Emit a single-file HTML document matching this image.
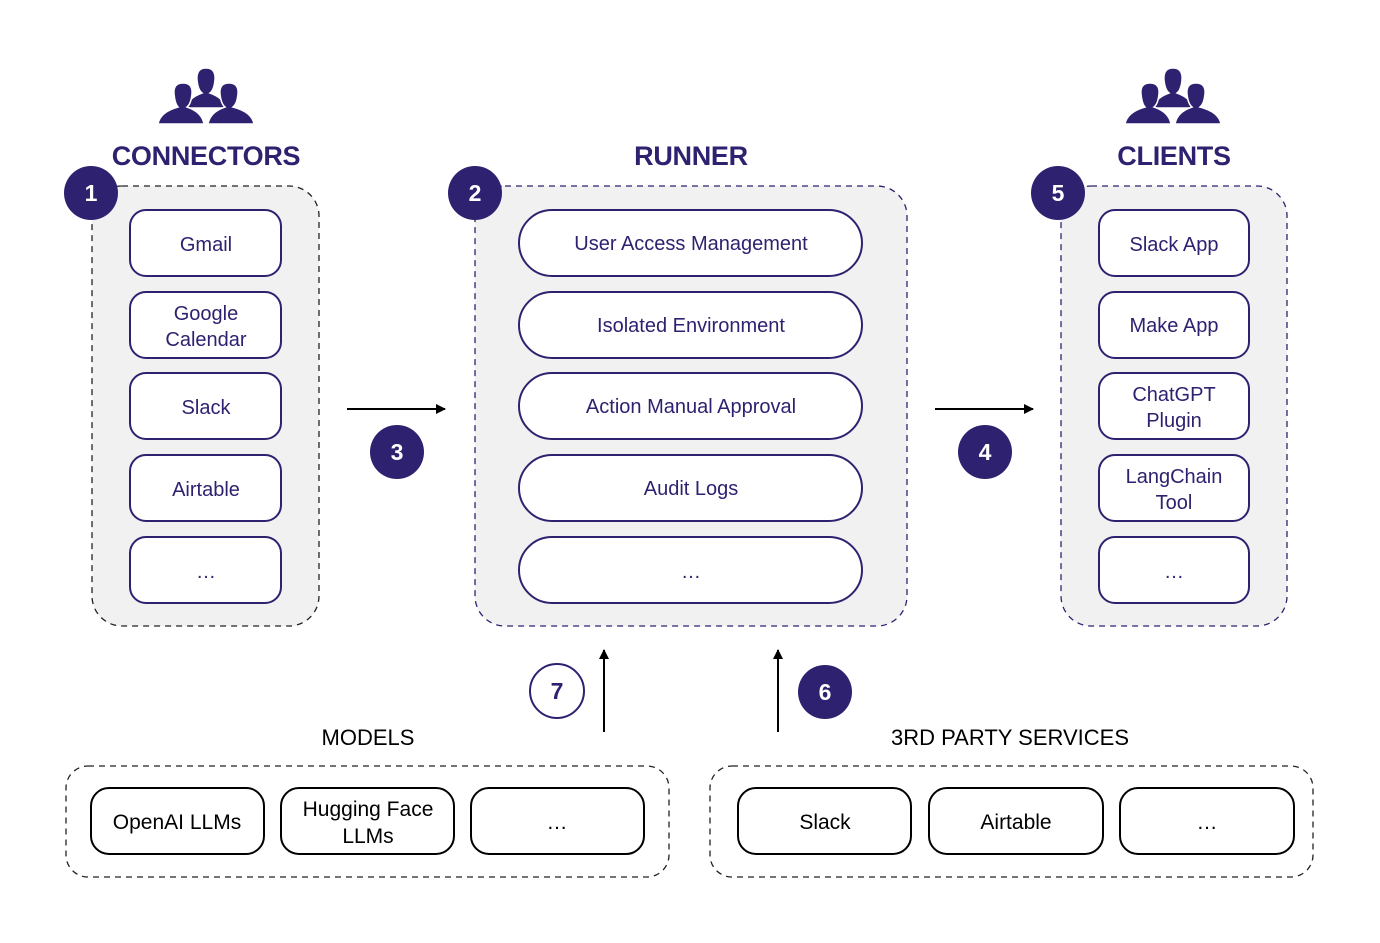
<!DOCTYPE html>
<html><head><meta charset="utf-8"><style>
html,body{margin:0;padding:0;background:#fff}
svg{display:block}
text{font-family:"Liberation Sans",Arial,sans-serif}
</style></head><body>
<svg width="1380" height="943" viewBox="0 0 1380 943" xmlns="http://www.w3.org/2000/svg">
<defs>
<marker id="ah" markerWidth="10" markerHeight="10" refX="9" refY="5" orient="auto" markerUnits="userSpaceOnUse"><path d="M0,0 L10,5 L0,10 z" fill="#000"/></marker>
<g id="people" fill="#2e2270" stroke="#fff" stroke-width="1.5">
  <path d="M-9,-16 Q-10,-28 0,-28 Q10,-28 9,-16 Q8,-6 4,-3 Q18,2 20,12 L-20,12 Q-18,2 -4,-3 Q-8,-6 -9,-16 z"/>
  <path d="M-32,-2 Q-33,-13 -23,-13 Q-13,-13 -14,-2 Q-15,8 -19,11 Q-4,16 -2,28 L-48,28 Q-46,16 -28,11 Q-31,8 -32,-2 z"/>
  <path d="M14,-2 Q13,-13 23,-13 Q33,-13 32,-2 Q31,8 27,11 Q46,16 48,28 L2,28 Q4,16 19,11 Q15,8 14,-2 z"/>
</g>
</defs>
<g transform="translate(206,96)"><use href="#people"/></g>
<g transform="translate(1173,96)"><use href="#people"/></g>

<g font-weight="bold" font-size="27" fill="#2e2270" text-anchor="middle" letter-spacing="-0.3">
<text x="206" y="165">CONNECTORS</text>
<text x="691" y="165">RUNNER</text>
<text x="1174" y="165">CLIENTS</text>
</g>

<rect x="92" y="186" width="227" height="440" rx="30" fill="#f1f1f1" stroke="#222" stroke-width="1.3" stroke-dasharray="6,5"/>
<rect x="475" y="186" width="432" height="440" rx="30" fill="#f1f1f1" stroke="#2e2270" stroke-width="1.3" stroke-dasharray="6,5"/>
<rect x="1061" y="186" width="226" height="440" rx="30" fill="#f1f1f1" stroke="#2e2270" stroke-width="1.3" stroke-dasharray="6,5"/>

<g fill="#fff" stroke="#2e2270" stroke-width="2">
<rect x="130" y="210" width="151" height="66" rx="16"/>
<rect x="130" y="292" width="151" height="66" rx="16"/>
<rect x="130" y="373" width="151" height="66" rx="16"/>
<rect x="130" y="455" width="151" height="66" rx="16"/>
<rect x="130" y="537" width="151" height="66" rx="16"/>
<rect x="519" y="210" width="343" height="66" rx="33"/>
<rect x="519" y="292" width="343" height="66" rx="33"/>
<rect x="519" y="373" width="343" height="66" rx="33"/>
<rect x="519" y="455" width="343" height="66" rx="33"/>
<rect x="519" y="537" width="343" height="66" rx="33"/>
<rect x="1099" y="210" width="150" height="66" rx="16"/>
<rect x="1099" y="292" width="150" height="66" rx="16"/>
<rect x="1099" y="373" width="150" height="66" rx="16"/>
<rect x="1099" y="455" width="150" height="66" rx="16"/>
<rect x="1099" y="537" width="150" height="66" rx="16"/>
</g>

<g font-size="20" fill="#2e2270" text-anchor="middle">
<text x="206" y="251">Gmail</text>
<text x="206" y="320">Google</text><text x="206" y="346">Calendar</text>
<text x="206" y="414">Slack</text>
<text x="206" y="496">Airtable</text>
<text x="206" y="578">…</text>
<text x="691" y="250">User Access Management</text>
<text x="691" y="332">Isolated Environment</text>
<text x="691" y="413">Action Manual Approval</text>
<text x="691" y="495">Audit Logs</text>
<text x="691" y="578">…</text>
<text x="1174" y="251">Slack App</text>
<text x="1174" y="332">Make App</text>
<text x="1174" y="401">ChatGPT</text><text x="1174" y="427">Plugin</text>
<text x="1174" y="483">LangChain</text><text x="1174" y="509">Tool</text>
<text x="1174" y="578">…</text>
</g>

<g stroke="#000" stroke-width="2">
<line x1="347" y1="409" x2="445" y2="409" marker-end="url(#ah)"/>
<line x1="935" y1="409" x2="1033" y2="409" marker-end="url(#ah)"/>
<line x1="604" y1="732" x2="604" y2="650" marker-end="url(#ah)"/>
<line x1="778" y1="732" x2="778" y2="650" marker-end="url(#ah)"/>
</g>

<g fill="#2e2270">
<circle cx="91" cy="193" r="27"/><circle cx="475" cy="193" r="27"/><circle cx="1058" cy="193" r="27"/>
<circle cx="397" cy="452" r="27"/><circle cx="985" cy="452" r="27"/><circle cx="825" cy="692" r="27"/>
</g>
<circle cx="557" cy="691" r="27" fill="#fff" stroke="#2e2270" stroke-width="2"/>
<g font-size="23" font-weight="bold" text-anchor="middle" fill="#fff">
<text x="91" y="201">1</text><text x="475" y="201">2</text><text x="1058" y="201">5</text>
<text x="397" y="460">3</text><text x="985" y="460">4</text><text x="825" y="700">6</text>
<text x="557" y="699" fill="#2e2270">7</text>
</g>

<g font-size="22" fill="#000" text-anchor="middle">
<text x="368" y="745">MODELS</text>
<text x="1010" y="745">3RD PARTY SERVICES</text>
</g>
<rect x="66" y="766" width="603" height="111" rx="22" fill="none" stroke="#222" stroke-width="1.3" stroke-dasharray="6,5"/>
<rect x="710" y="766" width="603" height="111" rx="22" fill="none" stroke="#222" stroke-width="1.3" stroke-dasharray="6,5"/>
<g fill="#fff" stroke="#000" stroke-width="2">
<rect x="91" y="788" width="173" height="66" rx="18"/>
<rect x="281" y="788" width="173" height="66" rx="18"/>
<rect x="471" y="788" width="173" height="66" rx="18"/>
<rect x="738" y="788" width="173" height="66" rx="18"/>
<rect x="929" y="788" width="174" height="66" rx="18"/>
<rect x="1120" y="788" width="174" height="66" rx="18"/>
</g>
<g font-size="21" fill="#000" text-anchor="middle">
<text x="177" y="829">OpenAI LLMs</text>
<text x="368" y="816">Hugging Face</text><text x="368" y="843">LLMs</text>
<text x="557" y="829">…</text>
<text x="825" y="829">Slack</text>
<text x="1016" y="829">Airtable</text>
<text x="1207" y="829">…</text>
</g>
</svg>
</body></html>
